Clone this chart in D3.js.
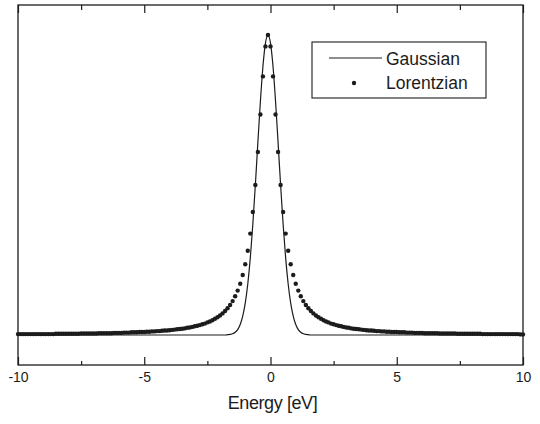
<!DOCTYPE html>
<html>
<head>
<meta charset="utf-8">
<script src="https://cdn.jsdelivr.net/npm/d3@7/dist/d3.min.js"></script>
<style>
  html, body { margin: 0; padding: 0; background: #fff; }
  svg { display: block; }
  text { font-family: "Liberation Sans", Arial, Helvetica, sans-serif; fill: #1c1c1c; }
</style>
</head>
<body>
<svg id="chart" width="540" height="424"></svg>
<script>
// ---- data ----
const lorentzEnergy = [
-10,-9.9,-9.8,-9.7,-9.6,-9.5,-9.4,-9.3,-9.2,-9.1,-9,-8.9,-8.8,-8.7,-8.6,-8.5,-8.4,-8.3,-8.2,-8.1,
-8,-7.9,-7.8,-7.7,-7.6,-7.5,-7.4,-7.3,-7.2,-7.1,-7,-6.9,-6.8,-6.7,-6.6,-6.5,-6.4,-6.3,-6.2,-6.1,
-6,-5.9,-5.8,-5.7,-5.6,-5.5,-5.4,-5.3,-5.2,-5.1,-5,-4.9,-4.8,-4.7,-4.6,-4.5,-4.4,-4.3,-4.2,-4.1,
-4,-3.9,-3.8,-3.7,-3.6,-3.5,-3.4,-3.3,-3.2,-3.1,-3,-2.9,-2.8,-2.7,-2.6,-2.5,-2.4,-2.3,-2.2,-2.1,
-2,-1.9,-1.8,-1.7,-1.6,-1.5,-1.4,-1.3,-1.2,-1.1,-1,-0.9,-0.8,-0.7,-0.6,-0.5,-0.4,-0.3,-0.2,-0.1,
0,0.1,0.2,0.3,0.4,0.5,0.6,0.7,0.8,0.9,1,1.1,1.2,1.3,1.4,1.5,1.6,1.7,1.8,1.9,
2,2.1,2.2,2.3,2.4,2.5,2.6,2.7,2.8,2.9,3,3.1,3.2,3.3,3.4,3.5,3.6,3.7,3.8,3.9,
4,4.1,4.2,4.3,4.4,4.5,4.6,4.7,4.8,4.9,5,5.1,5.2,5.3,5.4,5.5,5.6,5.7,5.8,5.9,
6,6.1,6.2,6.3,6.4,6.5,6.6,6.7,6.8,6.9,7,7.1,7.2,7.3,7.4,7.5,7.6,7.7,7.8,7.9,
8,8.1,8.2,8.3,8.4,8.5,8.6,8.7,8.8,8.9,9,9.1,9.2,9.3,9.4,9.5,9.6,9.7,9.8,9.9,
10
];
const lorentzValue = [
.003,.003,.003,.003,.003,.003,.003,.003,.003,.003,.003,.003,.003,.003,.003,
.004,.004,.004,.004,.004,.004,.004,.004,.004,.004,
.005,.005,.005,.005,.005,.005,.005,
.006,.006,.006,.006,.006,.006,
.007,.007,.007,.007,
.008,.008,.008,
.009,.009,.009,
.010,.010,.010,
.011,.011,.012,.012,.013,.013,.014,.015,.015,
.016,.017,.018,.019,.020,.021,.022,.024,.025,.027,.029,.031,.033,.036,.038,.042,.045,.049,.054,.059,
.065,.072,.080,.089,.100,.113,.129,.148,.171,.200,.236,.281,.338,.410,.500,.610,.735,.862,.962,1.000,
.962,.862,.735,.610,.500,.410,.338,.281,.236,.200,.171,.148,.129,.113,.100,.089,.080,.072,.065,
.059,.054,.049,.045,.042,.038,.036,.033,.031,.029,.027,.025,.024,.022,.021,.020,.019,.018,.017,.016,
.015,.015,.014,.013,.013,.012,.012,.011,.011,
.010,.010,.010,
.009,.009,.009,
.008,.008,.008,
.007,.007,.007,.007,
.006,.006,.006,.006,.006,.006,
.005,.005,.005,.005,.005,.005,.005,
.004,.004,.004,.004,.004,.004,.004,.004,.004,.004,
.003,.003,.003,.003,.003,.003,.003,.003,.003,.003,.003,.003,.003,.003,.003,
.002,.002
];
const gaussEnergy = [
-10,
-2.1,-2,-1.9,-1.8,-1.7,-1.6,-1.5,-1.4,-1.3,-1.2,-1.1,-1,-0.9,-0.8,-0.7,-0.6,-0.5,-0.4,-0.3,-0.2,
-0.1,
0,0.1,0.2,0.3,0.4,0.5,0.6,0.7,0.8,0.9,1,1.1,1.2,1.3,1.4,1.5,1.6,1.7,1.8,1.9,
10
];
const gaussValue = [
0,
0,0,0,0,.001,.002,.004,.009,.018,.035,.063,.106,.170,.257,.369,.500,.642,.779,.895,.973,
1,
.973,.895,.779,.642,.500,.369,.257,.170,.106,.063,.035,.018,.009,.004,.002,.001,0,0,0,0,
0
];
const majorTicks = [-10, -5, 0, 5, 10];
const minorTicks = [-7.5, -2.5, 2.5, 7.5];
const xTitle = "Energy [eV]";
const seriesNames = ["Gaussian", "Lorentzian"];

// ---- drawing ----
const ink = "#1c1c1c";
const svg = d3.select("#chart");
const plot = { left: 18, right: 523, top: 5, bottom: 365 };

const x = d3.scaleLinear().domain([-10, 10]).range([plot.left, plot.right]);
const y = d3.scaleLinear().domain([-0.1, 1.1]).range([plot.bottom, plot.top]);

// frame
svg.append("rect")
  .attr("x", plot.left).attr("y", plot.top)
  .attr("width", plot.right - plot.left).attr("height", plot.bottom - plot.top)
  .attr("fill", "none").attr("stroke", ink).attr("stroke-width", 1.3);

function styleAxis(g) {
  g.select(".domain").remove();
  g.selectAll(".tick line").attr("stroke", ink).attr("stroke-width", 1.2);
}

// bottom axis: major with labels, minor without
svg.append("g").attr("transform", `translate(0,${plot.bottom})`)
  .call(d3.axisBottom(x).tickValues(majorTicks).tickSize(-8).tickPadding(7.5)
        .tickFormat(d3.format("d")))
  .call(styleAxis)
  .call(g => g.selectAll(".tick text")
        .style("font-size", "14px").attr("fill", ink)
        .text(d => d < 0 ? "-" + Math.abs(d) : d));
svg.append("g").attr("transform", `translate(0,${plot.bottom})`)
  .call(d3.axisBottom(x).tickValues(minorTicks).tickSize(-4).tickFormat(""))
  .call(styleAxis);

// top axis (inward ticks, no labels)
svg.append("g").attr("transform", `translate(0,${plot.top})`)
  .call(d3.axisTop(x).tickValues(majorTicks).tickSize(-8).tickFormat(""))
  .call(styleAxis);
svg.append("g").attr("transform", `translate(0,${plot.top})`)
  .call(d3.axisTop(x).tickValues(minorTicks).tickSize(-5).tickFormat(""))
  .call(styleAxis);

// x title
svg.append("text")
  .attr("x", (x(-10) + x(10)) / 2 + 2).attr("y", 409)
  .attr("text-anchor", "middle")
  .style("font-size", "18px").style("letter-spacing", "-0.4px")
  .text(xTitle);

// Gaussian line
const gaussData = gaussEnergy.map((e, i) => [e, gaussValue[i]]);
svg.append("path")
  .datum(gaussData)
  .attr("fill", "none").attr("stroke", ink).attr("stroke-width", 1.2)
  .attr("d", d3.line().x(d => x(d[0])).y(d => y(d[1])).curve(d3.curveMonotoneX));

// Lorentzian dots
const lorData = lorentzEnergy.map((e, i) => [e, lorentzValue[i]]);
svg.append("g").selectAll("circle")
  .data(lorData).join("circle")
  .attr("cx", d => x(d[0])).attr("cy", d => y(d[1]))
  .attr("r", 2.2).attr("fill", ink);

// legend
const lg = svg.append("g");
lg.append("rect").attr("x", 312).attr("y", 42).attr("width", 174).attr("height", 56)
  .attr("fill", "#fff").attr("stroke", ink).attr("stroke-width", 1.1);
lg.append("line").attr("x1", 329).attr("x2", 382).attr("y1", 58).attr("y2", 58)
  .attr("stroke", ink).attr("stroke-width", 1.2);
lg.append("text").attr("x", 386).attr("y", 64.5).style("font-size", "17.5px").text(seriesNames[0]);
lg.append("circle").attr("cx", 354).attr("cy", 83).attr("r", 2.2).attr("fill", ink);
lg.append("text").attr("x", 386).attr("y", 88.5).style("font-size", "17.5px").text(seriesNames[1]);
</script>
</body>
</html>
